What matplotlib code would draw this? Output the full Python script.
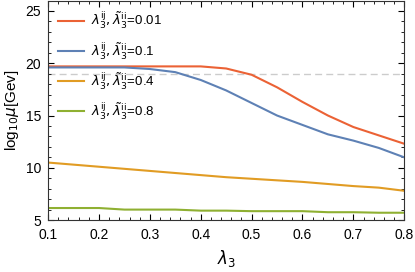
import matplotlib
matplotlib.use("Agg")
import matplotlib.pyplot as plt
from matplotlib.ticker import MultipleLocator

# datos
lam3 = [0.10, 0.15, 0.20, 0.25, 0.30, 0.35, 0.40, 0.45, 0.50, 0.55, 0.60, 0.65, 0.70, 0.75, 0.80]
mu_001 = [19.7, 19.7, 19.7, 19.7, 19.7, 19.7, 19.7, 19.5, 18.9, 17.7, 16.3, 15.0, 13.9, 13.1, 12.3]
mu_01 = [19.6, 19.6, 19.6, 19.6, 19.45, 19.15, 18.4, 17.4, 16.2, 15.0, 14.1, 13.2, 12.6, 11.9, 11.0]
mu_04 = [10.5, 10.3, 10.1, 9.9, 9.7, 9.5, 9.3, 9.1, 8.95, 8.8, 8.65, 8.45, 8.25, 8.1, 7.8]
mu_08 = [6.15, 6.15, 6.15, 6.0, 6.0, 6.0, 5.9, 5.9, 5.85, 5.85, 5.85, 5.75, 5.75, 5.7, 5.7]
etiquetas = ["0.01", "0.1", "0.4", "0.8"]
limite = 19.0

colores = ["#EB6235", "#5E81B5", "#E19C24", "#8FB032"]

plt.rcParams["font.family"] = ["Liberation Sans", "DejaVu Sans"]
plt.rcParams["mathtext.fontset"] = "dejavusans"

fig = plt.figure(figsize=(4.15, 2.72), dpi=100)
ax = fig.add_axes([0.116, 0.191, 0.858, 0.807])

for serie, col, et in zip([mu_001, mu_01, mu_04, mu_08], colores, etiquetas):
    ax.plot(lam3, serie, color=col, lw=1.5,
            label=r"$\lambda_3^{\rm ij},\tilde{\lambda}_3^{\rm ii}$=" + et)

ax.axhline(limite, color="#cccccc", lw=1.0, ls=(0, (5, 3)), zorder=0)

ax.set_xlim(0.1, 0.8)
ax.set_ylim(5, 26)
ax.xaxis.set_major_locator(MultipleLocator(0.1))
ax.xaxis.set_minor_locator(MultipleLocator(0.02))
ax.yaxis.set_major_locator(MultipleLocator(5))
ax.yaxis.set_minor_locator(MultipleLocator(1))
ax.tick_params(which="both", direction="in", top=True, right=True, labelsize=10)
ax.tick_params(axis="x", pad=6)
ax.tick_params(axis="y", pad=5)
ax.tick_params(which="major", length=4, width=0.8)
ax.tick_params(which="minor", length=2, width=0.6)
for s in ax.spines.values():
    s.set_color("#333333")

ax.set_xlabel(r"$\lambda_3$", fontsize=12, labelpad=4)
ax.set_ylabel(r"log$_{10}\mu$[Gev]", fontsize=11, labelpad=3)

ax.legend(loc="upper left", frameon=False, fontsize=9.5, handlelength=2.0,
          labelspacing=0.68, borderaxespad=0.35, handletextpad=0.5)

fig.savefig("out.png", dpi=100)
